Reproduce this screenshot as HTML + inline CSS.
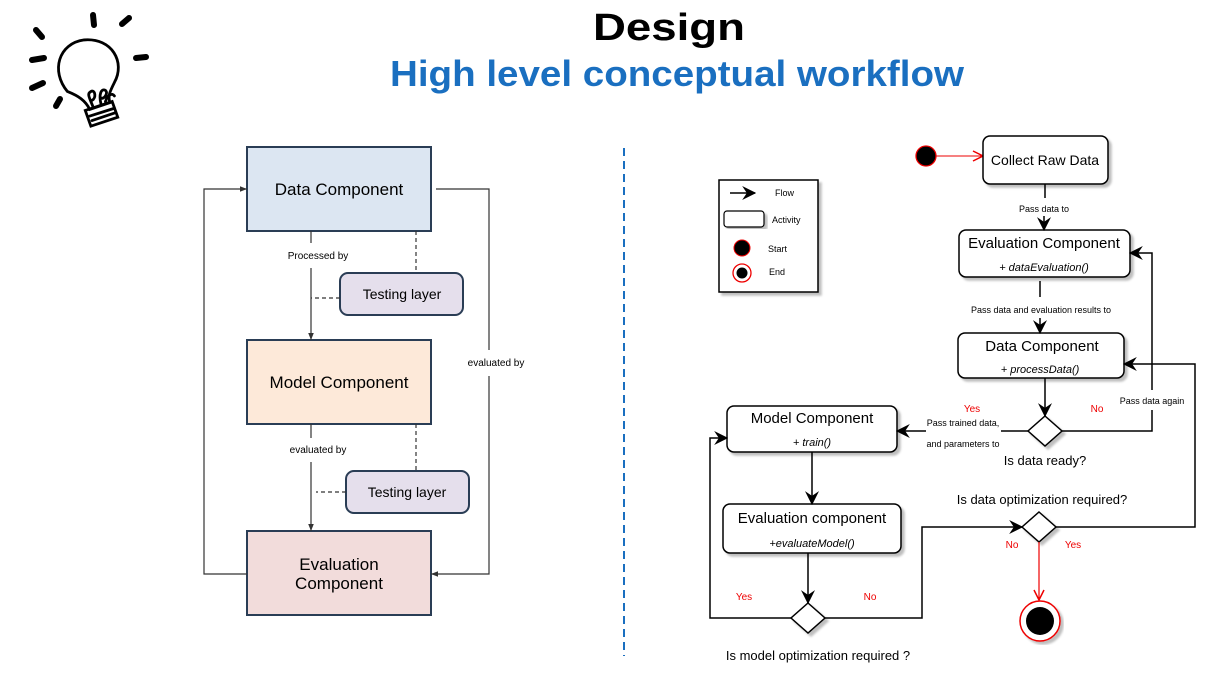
<!DOCTYPE html>
<html><head><meta charset="utf-8"><style>
html,body{margin:0;padding:0;background:#fff}
svg{display:block}
text{font-family:"Liberation Sans",sans-serif}
</style></head><body>
<svg width="1224" height="688" viewBox="0 0 1224 688" xmlns="http://www.w3.org/2000/svg">
<defs>
<marker id="a" viewBox="0 0 10 10" refX="10" refY="5" markerWidth="6" markerHeight="6" orient="auto"><path d="M0,1 L10,5 L0,9 z" fill="#333"/></marker>
<marker id="b" viewBox="0 0 12 12" refX="11" refY="6" markerWidth="14" markerHeight="14" markerUnits="userSpaceOnUse" orient="auto"><path d="M0,0 L12,6 L0,12 L4,6 z" fill="#000"/></marker>
<marker id="r" viewBox="0 0 12 12" refX="11" refY="6" markerWidth="12" markerHeight="12" markerUnits="userSpaceOnUse" orient="auto"><path d="M1,1 L11,6 L1,11" fill="none" stroke="#e00" stroke-width="1.5"/></marker>
<filter id="sh"><feDropShadow dx="3" dy="3" stdDeviation="1" flood-color="#000" flood-opacity="0.25"/></filter>
</defs>

<!-- lightbulb -->
<g stroke="#000" fill="none" stroke-linecap="round">
<g stroke-width="6"><line x1="93" y1="15" x2="94" y2="25"/><line x1="122" y1="24" x2="129" y2="18"/><line x1="36" y1="30" x2="42" y2="37"/><line x1="136" y1="58" x2="146" y2="57"/><line x1="32" y1="60" x2="44" y2="58"/><line x1="32" y1="88" x2="43" y2="83"/><line x1="56" y1="106" x2="60" y2="99"/></g>
<g stroke-width="2.5" transform="translate(92,78) scale(1.12) translate(-92,-76)"><path d="M70,88 C55,70 62,45 85,42 C110,40 122,62 112,80 C108,88 106,92 108,98 L90,104 C86,96 80,92 70,88 z"/>
<path d="M86,105 l24,-8 l5,14 l-24,8 z"/><path d="M90,110 l22,-7 M92,114 l21,-7"/>
<path d="M93,102 c-3,-8 -6,-12 -2,-14 c4,-2 5,6 1,8 M100,99 c-2,-8 0,-14 4,-12 c3,3 -2,8 -3,7 M104,97 c2,-6 6,-8 8,-5"/></g>
</g>

<!-- titles -->
<text x="669" y="40" text-anchor="middle" font-size="38" font-weight="bold" fill="#000" textLength="152" lengthAdjust="spacingAndGlyphs">Design</text>
<text x="677" y="86" text-anchor="middle" font-size="36" font-weight="bold" fill="#1a6fc0" textLength="574" lengthAdjust="spacingAndGlyphs">High level conceptual workflow</text>

<!-- left diagram -->
<g>
<rect x="247" y="147" width="184" height="84" fill="#dce6f2" stroke="#2a3d55" stroke-width="2"/>
<rect x="247" y="340" width="184" height="84" fill="#fde9d9" stroke="#2a3d55" stroke-width="2"/>
<rect x="247" y="531" width="184" height="84" fill="#f2dcdb" stroke="#2a3d55" stroke-width="2"/>
<text x="339" y="195" text-anchor="middle" font-size="17">Data Component</text>
<text x="339" y="388" text-anchor="middle" font-size="17">Model Component</text>
<text x="339" y="570" text-anchor="middle" font-size="17">Evaluation</text>
<text x="339" y="589" text-anchor="middle" font-size="17">Component</text>
<rect x="340" y="273" width="123" height="42" rx="8" fill="#e5dfec" stroke="#2a3d55" stroke-width="2"/>
<text x="402" y="299" text-anchor="middle" font-size="14">Testing layer</text>
<rect x="346" y="471" width="123" height="42" rx="8" fill="#e5dfec" stroke="#2a3d55" stroke-width="2"/>
<text x="407" y="497" text-anchor="middle" font-size="14">Testing layer</text>
<g stroke="#333" stroke-width="1.2" fill="none">
<line x1="311" y1="231" x2="311" y2="243"/><line x1="311" y1="268" x2="311" y2="340" marker-end="url(#a)"/>
<line x1="311" y1="424" x2="311" y2="438"/><line x1="311" y1="462" x2="311" y2="531" marker-end="url(#a)"/>
<g stroke-dasharray="4,3"><line x1="416" y1="231" x2="416" y2="273"/><line x1="340" y1="298" x2="311" y2="298"/><line x1="416" y1="424" x2="416" y2="471"/><line x1="346" y1="492" x2="316" y2="492"/></g>
<polyline points="247,574 204,574 204,189 247,189" marker-end="url(#a)"/>
<polyline points="436,189 489,189 489,350"/><polyline points="489,376 489,574 431,574" marker-end="url(#a)"/>
</g>
<text x="318" y="259" text-anchor="middle" font-size="10">Processed by</text>
<text x="318" y="453" text-anchor="middle" font-size="10">evaluated by</text>
<text x="496" y="366" text-anchor="middle" font-size="10">evaluated by</text>
</g>

<line x1="624" y1="148" x2="624" y2="656" stroke="#1a6fc0" stroke-width="2" stroke-dasharray="8,5"/>

<!-- legend -->
<rect x="719" y="180" width="99" height="112" fill="#fff" stroke="#000" stroke-width="1.5" filter="url(#sh)"/>
<line x1="730" y1="193" x2="755" y2="193" stroke="#000" stroke-width="1.5" marker-end="url(#b)"/>
<text x="775" y="196" font-size="9">Flow</text>
<rect x="724" y="211" width="40" height="16" rx="3" fill="#fff" stroke="#000" stroke-width="1.2" filter="url(#sh)"/>
<text x="772" y="223" font-size="9">Activity</text>
<circle cx="742" cy="248" r="8" fill="#000" stroke="#e00" stroke-width="1"/>
<text x="768" y="252" font-size="9">Start</text>
<circle cx="742" cy="273" r="9" fill="#fff" stroke="#e00" stroke-width="1.3"/><circle cx="742" cy="273" r="5.5" fill="#000"/>
<text x="769" y="275" font-size="9">End</text>

<!-- right flow -->
<circle cx="926" cy="156" r="10" fill="#000" stroke="#e00" stroke-width="1.3"/>
<line x1="936" y1="156" x2="983" y2="156" stroke="#e00" stroke-width="1" marker-end="url(#r)"/>
<g fill="#fff" stroke="#000" stroke-width="1.5" filter="url(#sh)">
<rect x="983" y="136" width="125" height="48" rx="7"/>
<rect x="959" y="230" width="171" height="47" rx="7"/>
<rect x="958" y="333" width="166" height="45" rx="7"/>
<rect x="727" y="406" width="170" height="46" rx="7"/>
<rect x="723" y="504" width="178" height="49" rx="7"/>
<path d="M1045,416 l17,15 l-17,15 l-17,-15 z"/>
<path d="M1039,512 l17,15 l-17,15 l-17,-15 z"/>
<path d="M808,603 l17,15 l-17,15 l-17,-15 z"/>
</g>
<text x="1045" y="165" text-anchor="middle" font-size="14">Collect Raw Data</text>
<text x="1044" y="248" text-anchor="middle" font-size="15">Evaluation Component</text>
<text x="1044" y="271" text-anchor="middle" font-size="11" font-style="italic">+ dataEvaluation()</text>
<text x="1042" y="351" text-anchor="middle" font-size="15">Data Component</text>
<text x="1040" y="373" text-anchor="middle" font-size="11" font-style="italic">+ processData()</text>
<text x="812" y="423" text-anchor="middle" font-size="15">Model Component</text>
<text x="812" y="446" text-anchor="middle" font-size="11" font-style="italic">+ train()</text>
<text x="812" y="523" text-anchor="middle" font-size="15">Evaluation component</text>
<text x="812" y="547" text-anchor="middle" font-size="11" font-style="italic">+evaluateModel()</text>

<g stroke="#000" stroke-width="1.5" fill="none">
<line x1="1045" y1="184" x2="1045" y2="198"/><line x1="1044" y1="216" x2="1044" y2="230" marker-end="url(#b)"/>
<line x1="1040" y1="281" x2="1040" y2="297"/><line x1="1040" y1="318" x2="1040" y2="333" marker-end="url(#b)"/>
<line x1="1045" y1="378" x2="1045" y2="416" marker-end="url(#b)"/>
<line x1="1028" y1="431" x2="1001" y2="431"/><line x1="926" y1="431" x2="897" y2="431" marker-end="url(#b)"/>
<polyline points="1062,431 1152,431 1152,410"/><polyline points="1152,390 1152,253 1130,253" marker-end="url(#b)"/>
<polyline points="1056,527 1195,527 1195,364 1124,364" marker-end="url(#b)"/>
<line x1="812" y1="452" x2="812" y2="504" marker-end="url(#b)"/>
<line x1="808" y1="553" x2="808" y2="603" marker-end="url(#b)"/>
<polyline points="791,618 710,618 710,438 727,438" marker-end="url(#b)"/>
<polyline points="825,618 922,618 922,527 1022,527" marker-end="url(#b)"/>
</g>
<line x1="1039" y1="542" x2="1039" y2="600" stroke="#e00" stroke-width="1.2" marker-end="url(#r)"/>
<circle cx="1040" cy="621" r="20" fill="#fff" stroke="#e00" stroke-width="1.5" filter="url(#sh)"/>
<circle cx="1040" cy="621" r="14" fill="#000"/>

<g font-size="9" text-anchor="middle">
<text x="1044" y="212">Pass data to</text>
<text x="1041" y="313">Pass data and evaluation results to</text>
<text x="963" y="426">Pass trained data,</text>
<text x="963" y="447">and parameters to</text>
<text x="1152" y="404">Pass data again</text>
</g>
<g font-size="10" fill="#e00" text-anchor="middle">
<text x="972" y="412">Yes</text><text x="1097" y="412">No</text>
<text x="1012" y="548">No</text><text x="1073" y="548">Yes</text>
<text x="744" y="600">Yes</text><text x="870" y="600">No</text>
</g>
<g font-size="13" text-anchor="middle">
<text x="1045" y="465">Is data ready?</text>
<text x="1042" y="504">Is data optimization required?</text>
<text x="818" y="660">Is model optimization required ?</text>
</g>
</svg>
</body></html>
